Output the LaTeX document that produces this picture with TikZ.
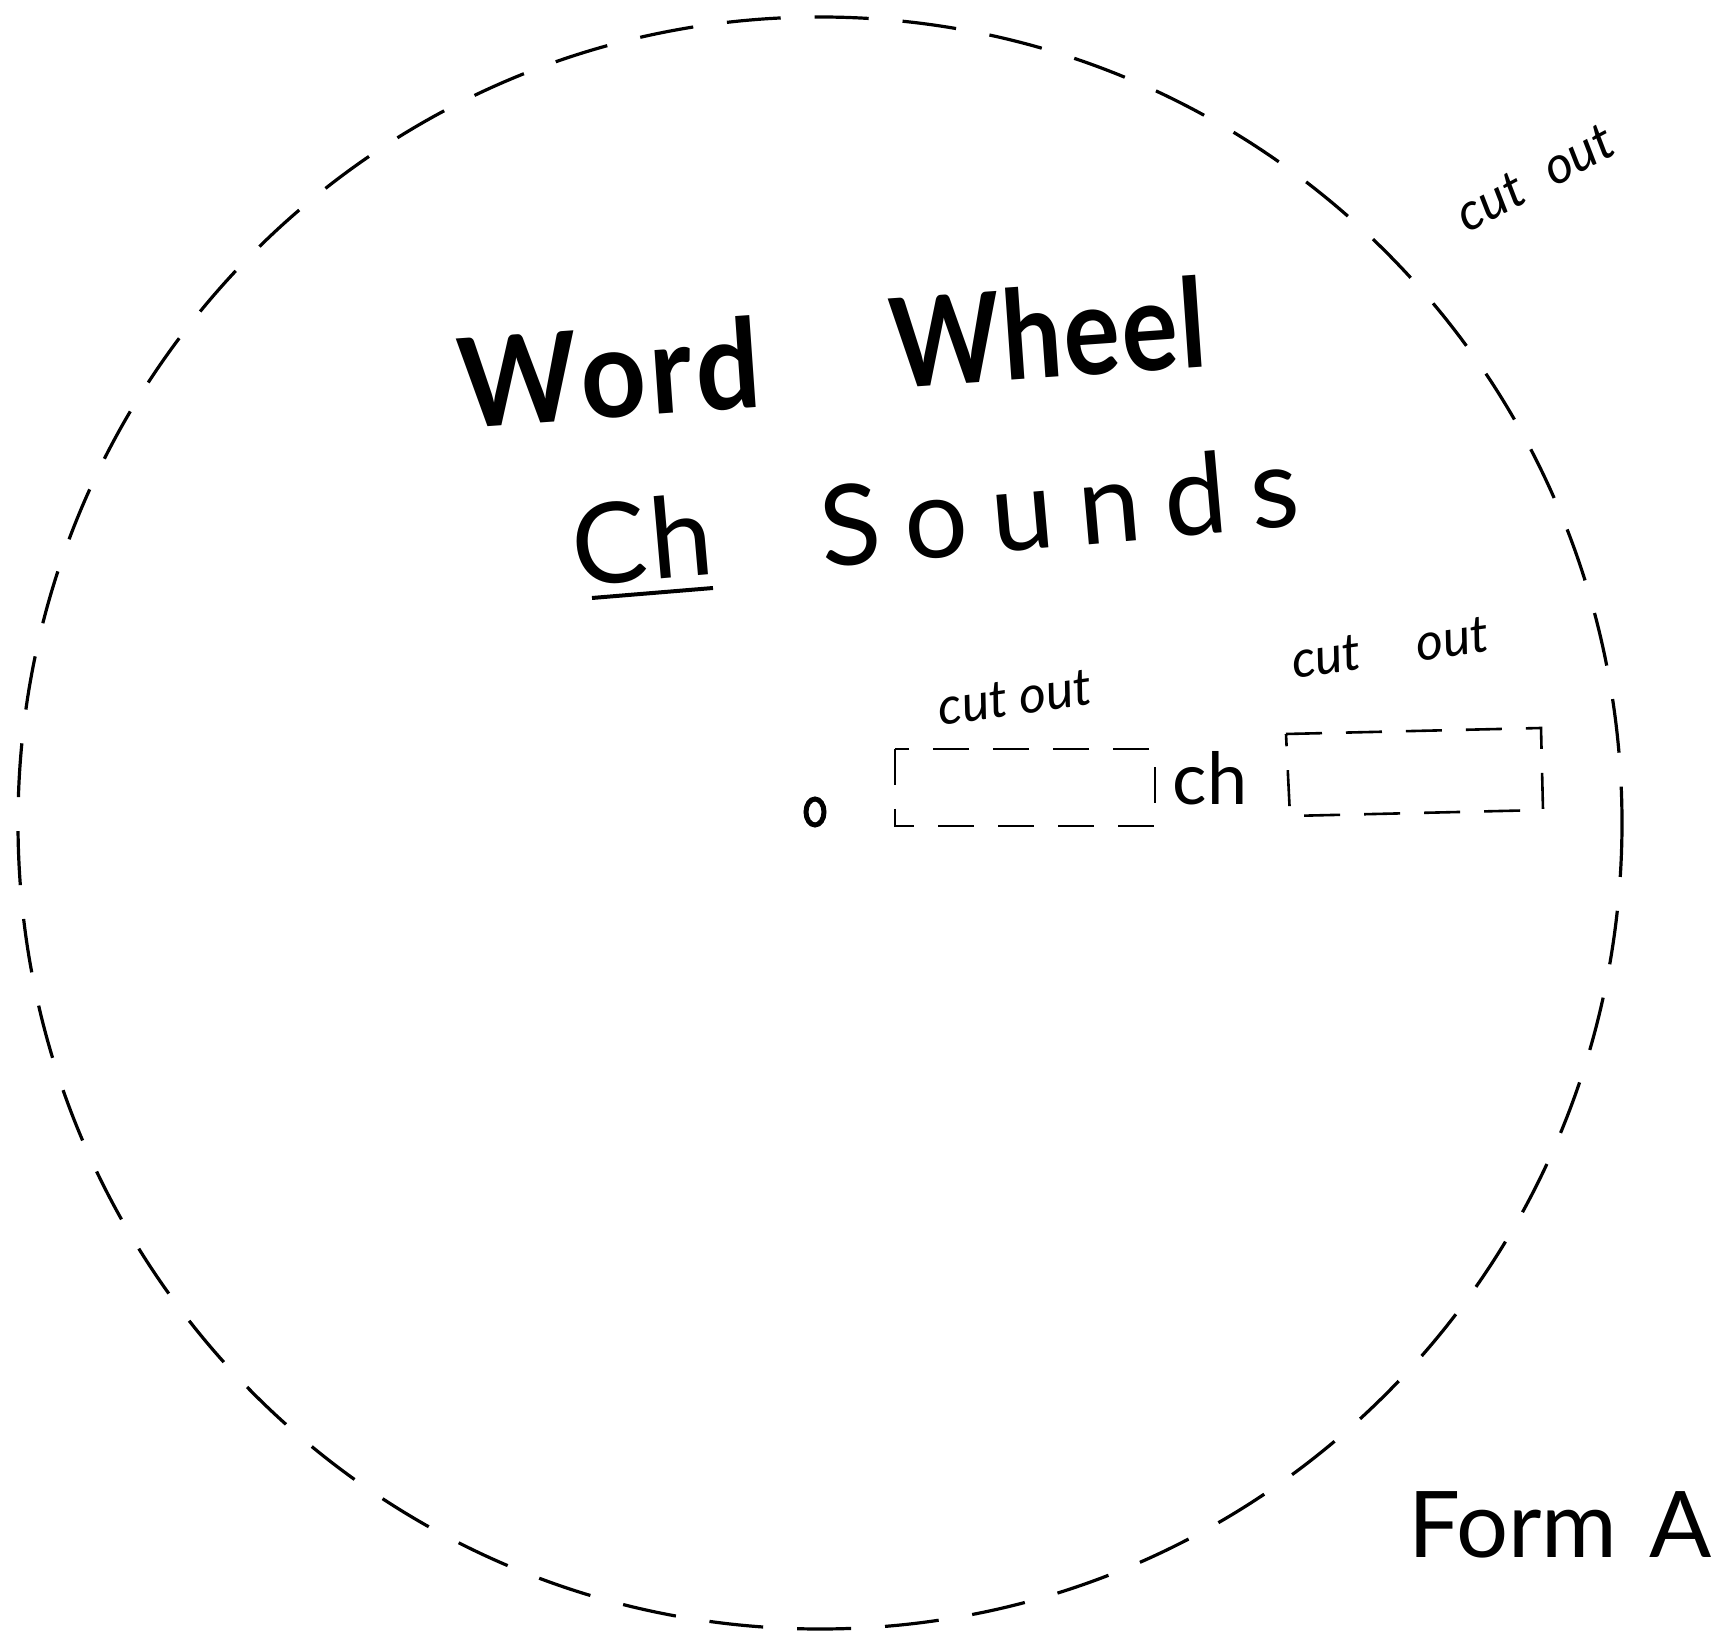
\documentclass[tikz,border=0pt]{standalone}
\usepackage{fontspec}
\setmainfont{Lato}
\begin{document}
\begin{tikzpicture}[x=0.5pt,y=-0.5pt,
  wheelline/.style={line width=1.6pt, dash pattern=on 27pt off 17pt},
  cutbox/.style={line width=1.3pt, dash pattern=on 18pt off 12pt},
  title/.style={inner sep=0pt, font=\fontsize{62}{62}\selectfont\bfseries},
  sub/.style={inner sep=0pt, font=\fontsize{56}{56}\selectfont},
  small/.style={inner sep=0pt, font=\fontsize{26}{26}\selectfont\itshape},
  lbl/.style={inner sep=0pt, font=\fontsize{36}{36}\selectfont}]
\useasboundingbox (0,0) rectangle (1720,1636);
% wheel outline
\draw[wheelline] (820,823) ellipse [x radius=802, y radius=806];
% titles
\node[title, rotate=4, xscale=0.92] (word) at (609,372) {W\kern1pt o\kern2pt r\kern2pt d};
\node[title, rotate=4, xscale=0.85] (wheel) at (1048,332) {W\kern1pt h\kern1pt e\kern1pt e\kern1pt l};
\node[sub, rotate=5] (ch) at (642,540) {C\kern2pt h};
\draw[line width=2pt] (592,598) -- (713,588);
\node[sub, rotate=5] (snd) at (1059,506) {S\kern12pt o\kern12pt u\kern12pt n\kern12pt d\kern12pt s};
% cut out labels
\node[small, rotate=28] (c0) at (1535,178) {cut\kern14pt out};
\node[small, rotate=8] (c1) at (1015,698) {cut out};
\node[small, rotate=8] (c2) at (1390,648) {cut\kern28pt out};
% centre hole
\draw[line width=2.5pt] (815,812) ellipse [x radius=9, y radius=13];
% windows
\draw[cutbox] (895,749) rectangle (1155,826);
\node[lbl] (chw) at (1210,778) {ch};
\draw[cutbox] (1286,734) -- (1541,728) -- (1543,810) -- (1290,816) -- cycle;
% form
\node[inner sep=0pt, font=\fontsize{46}{46}\selectfont] (form) at (1560,1525) {Form\kern16pt A};
\end{tikzpicture}
\end{document}
